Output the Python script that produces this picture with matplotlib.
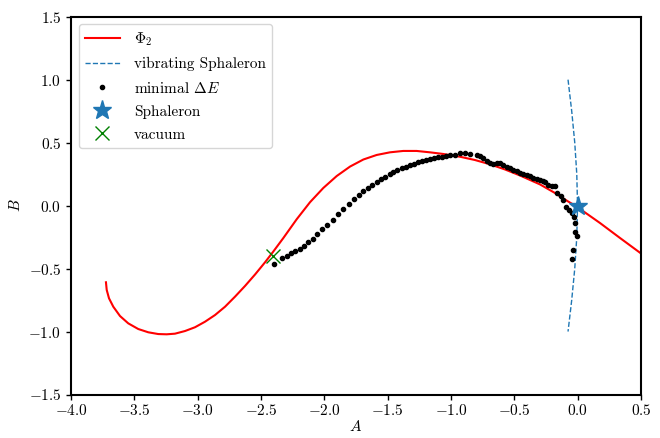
import matplotlib
matplotlib.use("Agg")
import matplotlib.pyplot as plt

plt.rcParams['font.family'] = 'serif'
plt.rcParams['font.serif'] = ['cmr10']
plt.rcParams['mathtext.fontset'] = 'cm'
plt.rcParams['axes.formatter.use_mathtext'] = True
plt.rcParams['font.size'] = 11

# Phi_2 curve
phi_A = [-3.724, -3.718, -3.700, -3.666, -3.613, -3.548, -3.469, -3.390, -3.311,
         -3.245, -3.179, -3.100, -3.021, -2.942, -2.863, -2.784, -2.705, -2.626,
         -2.547, -2.468, -2.403, -2.324, -2.218, -2.113, -2.008, -1.902, -1.797,
         -1.692, -1.587, -1.482, -1.377, -1.271, -1.166, -1.061, -0.929, -0.811,
         -0.692, -0.574, -0.455, -0.297, -0.179, -0.087, -0.005, 0.176, 0.334, 0.5]
phi_B = [-0.609, -0.670, -0.736, -0.803, -0.877, -0.935, -0.980, -1.006, -1.020,
         -1.022, -1.017, -0.996, -0.966, -0.922, -0.869, -0.803, -0.723, -0.638,
         -0.547, -0.450, -0.365, -0.258, -0.108, 0.027, 0.140, 0.235, 0.310,
         0.366, 0.402, 0.423, 0.434, 0.434, 0.423, 0.410, 0.388, 0.362,
         0.328, 0.287, 0.239, 0.168, 0.100, 0.040, -0.010, -0.138, -0.257, -0.380]

# vibrating sphaleron
vib_B = [1.0, 0.75, 0.5, 0.25, 0.0, -0.25, -0.5, -0.75, -1.0]
vib_A = [-0.076, -0.047, -0.023, -0.007, -0.001, -0.007, -0.023, -0.047, -0.076]

# minimal Delta E points
dE_A = [-2.401, -2.335, -2.295, -2.262, -2.230, -2.196, -2.157, -2.126, -2.091, -2.055,
        -2.018, -1.976, -1.934, -1.892, -1.851, -1.808, -1.769, -1.730, -1.694, -1.659,
        -1.621, -1.588, -1.553, -1.519, -1.485, -1.454, -1.423, -1.388, -1.357, -1.325,
        -1.294, -1.262, -1.231, -1.200, -1.168, -1.137, -1.105, -1.074, -1.043, -1.009,
        -0.967, -0.928, -0.889, -0.850, -0.797, -0.771, -0.745, -0.716, -0.693, -0.667,
        -0.640, -0.614, -0.586, -0.558, -0.535, -0.509, -0.480, -0.456, -0.429, -0.401,
        -0.378, -0.352, -0.321, -0.298, -0.274, -0.259, -0.232, -0.205, -0.179,
        -0.166, -0.134, -0.113, -0.092, -0.066, -0.047, -0.029, -0.021, -0.021, -0.008,
        -0.039, -0.047]
dE_B = [-0.465, -0.420, -0.402, -0.380, -0.362, -0.341, -0.317, -0.290, -0.264, -0.224,
        -0.189, -0.155, -0.115, -0.068, -0.028, 0.012, 0.049, 0.086, 0.115, 0.142,
        0.166, 0.187, 0.208, 0.229, 0.248, 0.264, 0.280, 0.296, 0.309, 0.320,
        0.333, 0.344, 0.352, 0.362, 0.370, 0.376, 0.384, 0.388, 0.394, 0.399,
        0.402, 0.415, 0.414, 0.410, 0.402, 0.390, 0.376, 0.358, 0.341, 0.330,
        0.341, 0.338, 0.325, 0.309, 0.296, 0.282, 0.271, 0.261, 0.251, 0.240,
        0.232, 0.221, 0.211, 0.203, 0.195, 0.185, 0.163, 0.158, 0.155,
        0.097, 0.076, 0.044, -0.010, -0.036, -0.062, -0.089, -0.142, -0.208, -0.243,
        -0.354, -0.426]

sph_A, sph_B = [0.0], [0.0]
vac_A, vac_B = [-2.405], [-0.398]

fig = plt.figure(figsize=(6.6, 4.38), dpi=100)
ax = fig.add_axes([71/660, 1-394.5/438, (641-71)/660, (394.5-16.7)/438])

ax.plot(phi_A, phi_B, color='red', lw=1.5, label=r'$\Phi_2$')
ax.plot(vib_A, vib_B, color='#1f77b4', lw=1.0, ls='--', label='vibrating Sphaleron')
ax.plot(dE_A, dE_B, 'k.', label=r'minimal $\Delta E$')
ax.plot(sph_A, sph_B, '*', color='#1f77b4', ms=14, ls='none', label='Sphaleron')
ax.plot(vac_A, vac_B, 'x', color='green', ms=10, mew=1.0, ls='none', label='vacuum')

ax.set_xlim(-4.0, 0.5)
ax.set_ylim(-1.5, 1.5)
ax.set_xticks([-4.0, -3.5, -3.0, -2.5, -2.0, -1.5, -1.0, -0.5, 0.0, 0.5])
ax.set_yticks([-1.5, -1.0, -0.5, 0.0, 0.5, 1.0, 1.5])
ax.set_xlabel(r'$A$', labelpad=1)
ax.set_ylabel(r'$B$')
for s in ax.spines.values():
    s.set_linewidth(1.5)
ax.tick_params(width=1.0)
ax.tick_params(axis='x', pad=2.5)
ax.legend(loc='upper left', labelspacing=0.6, handlelength=2.3, handletextpad=0.9)

fig.savefig('out.png', dpi=100)
